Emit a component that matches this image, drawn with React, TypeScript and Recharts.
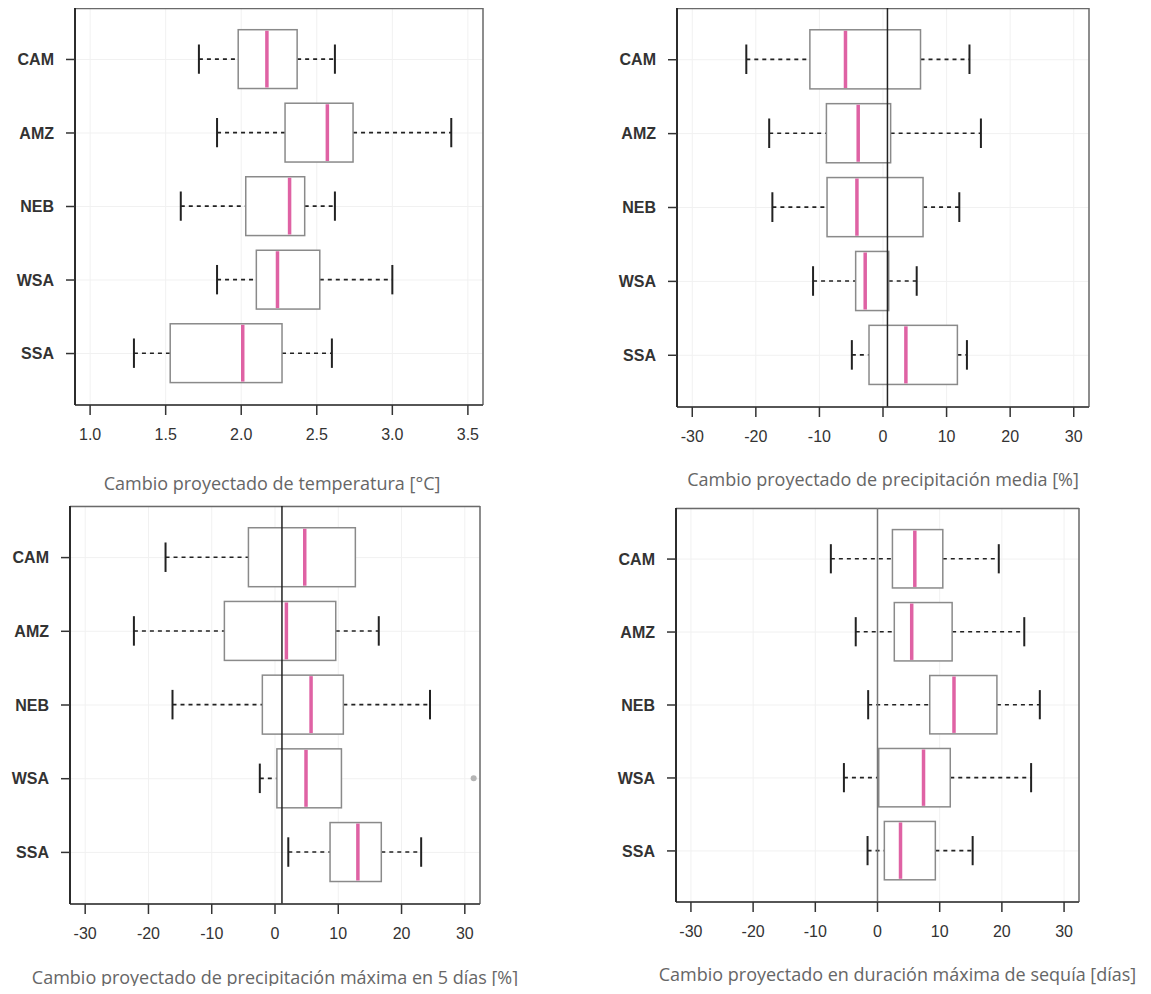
import React from 'react';
import { ComposedChart, Bar, XAxis, YAxis, CartesianGrid, ReferenceLine } from 'recharts';

const regions = ['CAM', 'AMZ', 'NEB', 'WSA', 'SSA'];

// Cambio de temperatura [°C]
const tempMin = [1.72, 1.84, 1.6, 1.84, 1.29];
const tempQ1 = [1.98, 2.29, 2.03, 2.1, 1.53];
const tempMed = [2.17, 2.57, 2.32, 2.24, 2.01];
const tempQ3 = [2.37, 2.74, 2.42, 2.52, 2.27];
const tempMax = [2.62, 3.39, 2.62, 3.0, 2.6];
const tempTicks = [1.0, 1.5, 2.0, 2.5, 3.0, 3.5];

// Cambio de precipitación media [%]
const prMin = [-21.5, -17.9, -17.4, -11.0, -4.9];
const prQ1 = [-11.5, -8.9, -8.8, -4.3, -2.2];
const prMed = [-5.9, -3.9, -4.1, -2.8, 3.6];
const prQ3 = [5.9, 1.2, 6.3, 0.9, 11.7];
const prMax = [13.6, 15.4, 12.0, 5.3, 13.2];

// Cambio de precipitación máxima en 5 días [%]
const rx5Min = [-17.3, -22.3, -16.2, -2.4, 2.1];
const rx5Q1 = [-4.2, -8.0, -2.0, 0.3, 8.7];
const rx5Med = [4.7, 1.8, 5.7, 4.9, 13.1];
const rx5Q3 = [12.7, 9.6, 10.8, 10.5, 16.8];
const rx5Max = [12.7, 16.4, 24.5, 10.5, 23.1];
const rx5Outliers = [[], [], [], [31.4], []];

// Cambio en duración máxima de sequía [días]
const cddMin = [-7.5, -3.5, -1.5, -5.4, -1.6];
const cddQ1 = [2.4, 2.7, 8.4, 0.2, 1.1];
const cddMed = [6.0, 5.5, 12.3, 7.4, 3.7];
const cddQ3 = [10.5, 12.0, 19.2, 11.7, 9.3];
const cddMax = [19.5, 23.6, 26.1, 24.7, 15.3];

const pctTicks = [-30, -20, -10, 0, 10, 20, 30];

const buildRows = (mn, q1, md, q3, mx, out = []) =>
  regions.map((region, i) => ({
    region,
    range: [mn[i], mx[i]],
    min: mn[i],
    q1: q1[i],
    med: md[i],
    q3: q3[i],
    max: mx[i],
    outliers: out[i] || [],
  }));

const BoxShape = (props: any) => {
  const { x, y, width, height, payload } = props;
  if (!payload) return null;
  const lo = payload.min;
  const hi = payload.max;
  const px = (v: number) => x + ((v - lo) / (hi - lo)) * width;
  const cy = y + height / 2;
  const cap = height / 4;
  const xq1 = px(payload.q1);
  const xq3 = px(payload.q3);
  const xmed = px(payload.med);
  return (
    <g>
      {payload.q1 > payload.min && (
        <>
          <line x1={px(payload.min)} x2={xq1} y1={cy} y2={cy} stroke="#222" strokeWidth={1.6} strokeDasharray="4 4" />
          <line x1={px(payload.min)} x2={px(payload.min)} y1={cy - cap} y2={cy + cap} stroke="#222" strokeWidth={2} />
        </>
      )}
      {payload.max > payload.q3 && (
        <>
          <line x1={xq3} x2={px(payload.max)} y1={cy} y2={cy} stroke="#222" strokeWidth={1.6} strokeDasharray="4 4" />
          <line x1={px(payload.max)} x2={px(payload.max)} y1={cy - cap} y2={cy + cap} stroke="#222" strokeWidth={2} />
        </>
      )}
      <rect x={xq1} y={y} width={xq3 - xq1} height={height} fill="#fff" stroke="#8a8a8a" strokeWidth={1.5} />
      <line x1={xmed} x2={xmed} y1={y + 1} y2={y + height - 1} stroke="#df62a4" strokeWidth={3.5} />
      {payload.outliers.map((o: number, k: number) => (
        <circle key={k} cx={px(o)} cy={cy} r={3} fill="#b5b5b5" />
      ))}
    </g>
  );
};

// plot frame (R's box()), taken from the chart's own offset
const frameRows = ({ offset, height }: any) => {
  const h = offset.height ?? height - offset.top - offset.bottom;
  return [offset.top + 0.5, offset.top + h];
};
const frameCols = ({ offset, width }: any) => {
  const w = offset.width ?? width - offset.left - offset.right;
  return [offset.left, offset.left + w];
};

const Panel = ({ left, top, width, height, box, titleBase, titleDx = 0, data, domain, ticks, fmt, title, refX, refColor }) => {
  const yAxisW = 60;
  const plotH = box[3] - box[1];
  const pad = (plotH * 0.2) / 5.4;
  const band = (plotH - 2 * pad) / 5;
  const xTick = { fontFamily: 'Liberation Sans, Arial, sans-serif', fontSize: 16, fill: '#333' };
  const yTick = { fontFamily: 'Liberation Sans, Arial, sans-serif', fontSize: 16, fill: '#333', fontWeight: 'bold' };
  return (
    <div style={{ position: 'absolute', left, top }}>
      <ComposedChart
        width={width}
        height={height}
        data={data}
        layout="vertical"
        margin={{
          top: box[1] - top,
          left: box[0] - left - yAxisW,
          right: left + width - box[2],
          bottom: top + height - titleBase,
        }}
      >
        <CartesianGrid stroke="#f1f1f1" />
        <CartesianGrid
          stroke="#6a6a6a"
          strokeWidth={1.5}
          horizontalCoordinatesGenerator={frameRows}
          verticalCoordinatesGenerator={frameCols}
        />
        <XAxis
          type="number"
          dataKey="max"
          domain={domain}
          ticks={ticks}
          allowDataOverflow
          tickFormatter={fmt}
          tick={xTick}
          tickSize={10}
          tickMargin={14}
          axisLine={{ stroke: '#444', strokeWidth: 1.5 }}
          tickLine={{ stroke: '#333', strokeWidth: 1.5 }}
          height={titleBase - box[3]}
          label={{
            value: title,
            position: 'insideBottom',
            offset: 0,
            dx: titleDx,
            style: { fontFamily: 'Open Sans, sans-serif', fontSize: 18, fill: '#666' },
          }}
        />
        <YAxis
          type="category"
          dataKey="region"
          width={yAxisW}
          interval={0}
          padding={{ top: pad, bottom: pad }}
          tick={yTick}
          tickSize={9}
          tickMargin={12}
          axisLine={{ stroke: '#222', strokeWidth: 1.8 }}
          tickLine={{ stroke: '#333', strokeWidth: 1.5 }}
        />
        {refX !== undefined && <ReferenceLine x={refX} stroke={refColor} strokeWidth={1.5} />}
        <Bar dataKey="range" barSize={band * 0.8} shape={<BoxShape />} isAnimationActive={false} />
      </ComposedChart>
    </div>
  );
};

const App = () => {
  const tempData = buildRows(tempMin, tempQ1, tempMed, tempQ3, tempMax);
  const prData = buildRows(prMin, prQ1, prMed, prQ3, prMax);
  const rx5Data = buildRows(rx5Min, rx5Q1, rx5Med, rx5Q3, rx5Max, rx5Outliers);
  const cddData = buildRows(cddMin, cddQ1, cddMed, cddQ3, cddMax);
  const pct = (v: number) => `${v}`;

  return (
    <div style={{ position: 'relative', width: 1151, height: 994, margin: -8, background: '#fff' }}>
      <Panel
        left={0} top={0} width={575} height={500}
        box={[75, 8, 483, 405]} titleBase={490} titleDx={-7}
        data={tempData} domain={[0.9, 3.6]} ticks={tempTicks}
        fmt={(v: number) => v.toFixed(1)}
        title="Cambio proyectado de temperatura [°C]"
      />
      <Panel
        left={575} top={0} width={576} height={500}
        box={[677, 8, 1089, 407]} titleBase={486}
        data={prData} domain={[-32.4, 32.4]} ticks={pctTicks} fmt={pct}
        title="Cambio proyectado de precipitación media [%]"
        refX={0.7} refColor="#222"
      />
      <Panel
        left={0} top={500} width={575} height={494}
        box={[70, 506, 480, 904]} titleBase={984}
        data={rx5Data} domain={[-32.4, 32.4]} ticks={pctTicks} fmt={pct}
        title="Cambio proyectado de precipitación máxima en 5 días [%]"
        refX={1.1} refColor="#222"
      />
      <Panel
        left={575} top={500} width={576} height={494}
        box={[676, 508, 1079, 902]} titleBase={981} titleDx={20}
        data={cddData} domain={[-32.4, 32.4]} ticks={pctTicks} fmt={pct}
        title="Cambio proyectado en duración máxima de sequía [días]"
        refX={0} refColor="#777"
      />
    </div>
  );
};

export default App;
